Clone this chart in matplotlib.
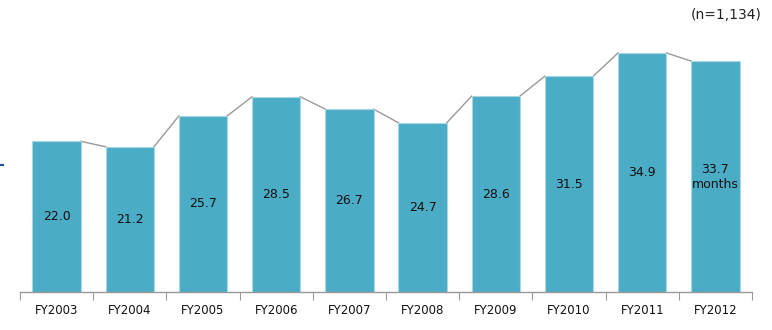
import matplotlib.pyplot as plt
import numpy as np
from matplotlib.lines import Line2D

# Average period by fiscal year
years = ['FY2003', 'FY2004', 'FY2005', 'FY2006', 'FY2007',
         'FY2008', 'FY2009', 'FY2010', 'FY2011', 'FY2012']
months = [22.0, 21.2, 25.7, 28.5, 26.7, 24.7, 28.6, 31.5, 34.9, 33.7]

bar_color = '#4BACC6'
bar_w = 0.66

fig = plt.figure(figsize=(7.72, 3.30), dpi=100)
ax = fig.add_axes([20/772, 38/330, 732/772, 274/330])

x = np.arange(len(years))
ax.bar(x, months, width=bar_w, color=bar_color, edgecolor='#A9D6E3', linewidth=0.8, zorder=2)

# gray connectors between neighbouring bar tops
for i in range(len(months) - 1):
    ax.plot([x[i] + bar_w/2, x[i+1] - bar_w/2], [months[i], months[i+1]],
            color='#999999', lw=1, zorder=1)

# value labels in the middle of each bar
for i, v in enumerate(months):
    txt = f'{v:.1f}'
    if i == len(months) - 1:
        txt = f'{v:.1f}\nmonths'
    ax.text(x[i], v/2, txt, ha='center', va='center', fontsize=9,
            color='#111111', linespacing=1.2)

ax.set_xlim(-0.5, len(years) - 0.5)
ax.set_ylim(0, 40)
ax.set_yticks([])
for s in ['top', 'right', 'left']:
    ax.spines[s].set_visible(False)
ax.spines['bottom'].set_color('#999999')
ax.spines['bottom'].set_linewidth(1)

# ticks on category boundaries, labels at centres
ax.set_xticks(np.arange(-0.5, len(years)), minor=False)
ax.set_xticklabels([])
ax.set_xticks(x, minor=True)
ax.set_xticklabels(years, minor=True, fontsize=8.5, color='#111111')
ax.tick_params(axis='x', which='major', length=6, color='#999999', direction='out')
ax.tick_params(axis='x', which='minor', length=0, pad=9)

fig.text(762/772, 1 - 15/330, '(n=1,134)', ha='right', va='center', fontsize=10, color='#222222')

# stray axis mark at the left edge
fig.add_artist(Line2D([0, 3/772], [1 - 165/330, 1 - 165/330], color='#1F4E9A', lw=1.5))

fig.savefig('out.png', dpi=100)
